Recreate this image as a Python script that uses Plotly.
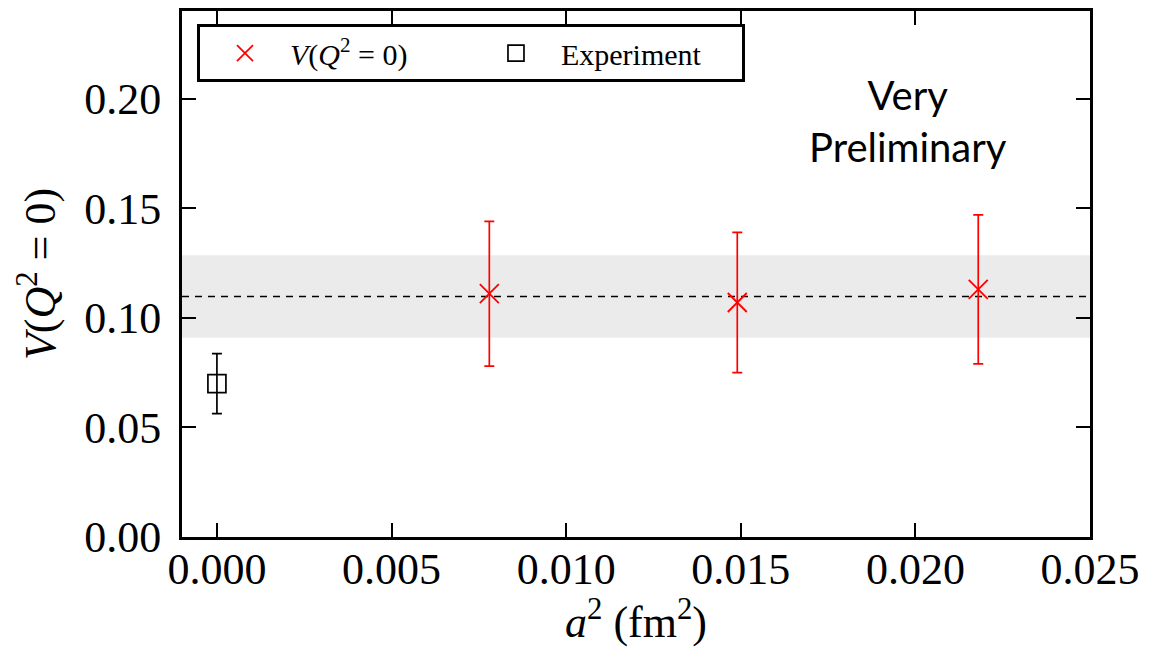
import plotly.graph_objects as go

# Lattice results: V(Q^2=0) at three lattice spacings
a2_lat = [0.0078, 0.0149, 0.0218]
v_lat = [0.111, 0.107, 0.113]
v_lat_err = [0.033, 0.032, 0.034]

# Experimental value, placed at a^2 = 0
a2_exp = [0.0]
v_exp = [0.070]
v_exp_err = [0.0137]

# Constant fit across spacings
fit_mean = 0.1097
fit_err = 0.0188

x_ticks = [0.000, 0.005, 0.010, 0.015, 0.020, 0.025]
x_tick_text = ["0.000", "0.005", "0.010", "0.015", "0.020", "0.025"]
y_ticks = [0.00, 0.05, 0.10, 0.15, 0.20]
y_tick_text = ["0.00", "0.05", "0.10", "0.15", "0.20"]

serif = "Liberation Serif, Times New Roman, serif"

fig = go.Figure()

fig.add_trace(go.Scatter(
    x=a2_lat, y=v_lat,
    mode="markers",
    name="<i>V</i>(<i>Q</i><sup>2</sup> = 0)",
    marker=dict(symbol="x-thin", size=19, color="red",
                line=dict(color="red", width=1.8)),
    error_y=dict(type="data", array=v_lat_err, visible=True,
                 color="red", thickness=1.7, width=5),
))

fig.add_trace(go.Scatter(
    x=a2_exp, y=v_exp,
    mode="markers",
    name="Experiment",
    marker=dict(symbol="square-open", size=18, color="black",
                line=dict(color="black", width=1.7)),
    error_y=dict(type="data", array=v_exp_err, visible=True,
                 color="black", thickness=1.7, width=5),
))

# Fit band and central value
fig.add_shape(type="rect", xref="paper", yref="y",
              x0=0, x1=1, y0=fit_mean - fit_err, y1=fit_mean + fit_err,
              fillcolor="#ebebeb", line=dict(width=0), layer="below")
fig.add_shape(type="line", xref="paper", yref="y",
              x0=0, x1=1, y0=fit_mean, y1=fit_mean,
              line=dict(color="black", width=1.6, dash="7px,6px"),
              layer="below")

fig.add_annotation(
    x=0.0198, y=0.19, xref="x", yref="y",
    text="Very<br>Preliminary", showarrow=False,
    font=dict(family="Lato, Open Sans, sans-serif", size=40, color="black"),
    align="center",
)

axis_common = dict(
    showline=True, linecolor="black", linewidth=3, mirror="ticks",
    ticks="inside", ticklen=14, tickwidth=1.5, tickcolor="black",
    showgrid=False, zeroline=False, automargin=False,
    tickfont=dict(family=serif, size=44, color="black"),
)

fig.update_xaxes(
    range=[-0.001, 0.025],
    tickvals=x_ticks, ticktext=x_tick_text,
    ticklabelstandoff=-9,
    title=dict(text="<i>a</i><sup>2</sup> (fm<sup>2</sup>)",
               font=dict(family=serif, size=44, color="black"), standoff=22),
    **axis_common,
)
fig.update_yaxes(
    range=[0.0, 0.24],
    tickvals=y_ticks, ticktext=y_tick_text,
    ticklabelstandoff=9,
    title=dict(text="<i>V</i>(<i>Q</i><sup>2</sup> = 0)",
               font=dict(family=serif, size=44, color="black")),
    **axis_common,
)

fig.update_layout(
    width=1156, height=647,
    margin=dict(l=182, r=66, t=11, b=110),
    paper_bgcolor="white", plot_bgcolor="white",
    showlegend=True,
    legend=dict(
        orientation="h", x=0.0165, y=0.975, xanchor="left", yanchor="top",
        bgcolor="white", bordercolor="black", borderwidth=3,
        font=dict(family=serif, size=30, color="black"),
        entrywidth=176, itemwidth=80,
    ),
)

fig.write_html("out.html")
